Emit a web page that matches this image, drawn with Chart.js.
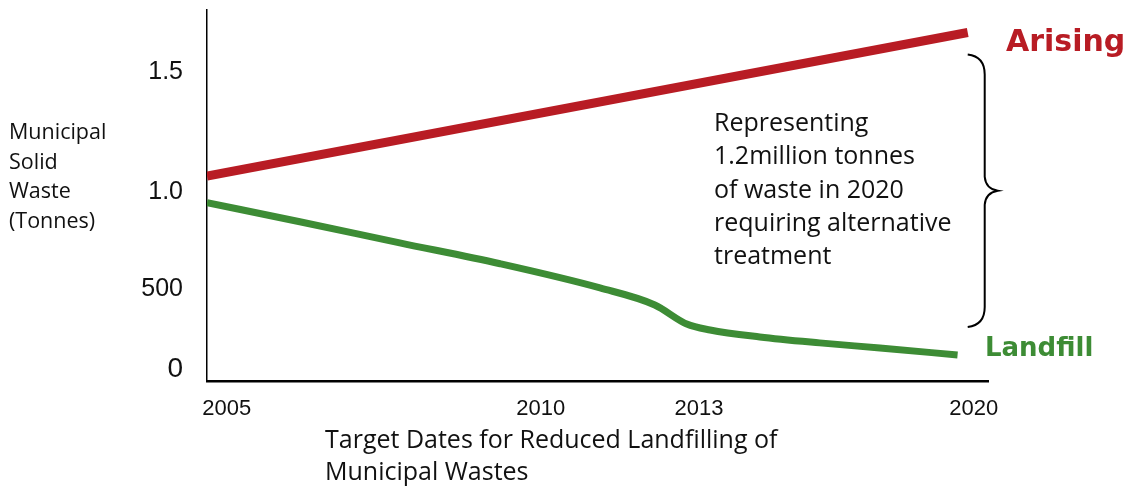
<!DOCTYPE html>
<html>
<head>
<meta charset="utf-8">
<script src="https://cdn.jsdelivr.net/npm/chart.js@4.4.1/dist/chart.umd.min.js"></script>
<style>
  body { margin: 0; background: #fff; }
  #wrap { width: 1129px; height: 490px; }
</style>
</head>
<body>
<div id="wrap"><canvas id="wasteChart" width="1129" height="490"></canvas></div>
<script>
// Data (x = position on the timeline in years, y = million tonnes)
const arisingYears = [2005, 2020];
const arisingValues = [1.0, 1.70];

const landfillYears = [2005, 2006.83, 2008.8, 2010.78, 2012.75, 2013.83, 2014.46, 2014.92, 2015.9, 2017.08, 2018.27, 2019.8];
const landfillValues = [0.87, 0.777, 0.674, 0.572, 0.454, 0.371, 0.278, 0.249, 0.215, 0.186, 0.161, 0.127];

// Tick labels as printed on the diagram (the drawn axis is not evenly spaced)
const xTickPositions = [2005.39, 2011.58, 2014.7, 2020.12];
const xTickLabels = ['2005', '2010', '2013', '2020'];
const yTickPositions = [0.059, 0.449, 0.923, 1.505];
const yTickLabels = ['0', '500', '1.0', '1.5'];

const yTitleLines = ['Municipal', 'Solid', 'Waste', '(Tonnes)'];
const xTitleLines = ['Target Dates for Reduced Landfilling of', 'Municipal Wastes'];
const noteLines = ['Representing', '1.2million tonnes', 'of waste in 2020', 'requiring alternative', 'treatment'];

const RED = '#b81c24';
const GREEN = '#3d8c35';
const bodyFont = '"Open Sans", "Noto Sans", sans-serif';

function toPoints(xs, ys) {
    return xs.map((x, i) => ({ x: x, y: ys[i] }));
}

// Draws the free text, labels and the curly brace
const annotations = {
    id: 'annotations',
    afterDraw(chart) {
        const ctx = chart.ctx;
        const x = chart.scales.x;
        const y = chart.scales.y;
        ctx.save();
        ctx.fillStyle = '#111';
        ctx.textBaseline = 'middle';
        ctx.textAlign = 'left';

        // y axis title
        ctx.font = '21.5px ' + bodyFont;
        yTitleLines.forEach((t, i) => ctx.fillText(t, 9, 133 + i * 29.5));

        // x axis title
        ctx.font = '25px ' + bodyFont;
        xTitleLines.forEach((t, i) => ctx.fillText(t, 325, 441 + i * 32));

        // note
        noteLines.forEach((t, i) => ctx.fillText(t, 714, 124 + i * 33.2));

        // series labels
        ctx.font = 'bold 30px "DejaVu Sans", sans-serif';
        ctx.fillStyle = RED;
        ctx.fillText('Arising', 1006, 43);
        ctx.font = 'bold 26px "DejaVu Sans", sans-serif';
        ctx.fillStyle = GREEN;
        ctx.fillText('Landfill', 985, 349);

        // curly brace between the two series at 2020
        const bx = x.getPixelForValue(2020);
        const top = y.getPixelForValue(arisingValues[1]) + 22;
        const bot = y.getPixelForValue(landfillValues[landfillValues.length - 1]) - 28;
        const mid = (top + bot) / 2;
        ctx.strokeStyle = '#000';
        ctx.lineWidth = 2;
        ctx.beginPath();
        ctx.moveTo(bx, top);
        ctx.quadraticCurveTo(bx + 17, top + 2, bx + 17, top + 20);
        ctx.lineTo(bx + 17, mid - 14);
        ctx.quadraticCurveTo(bx + 18, mid - 2, bx + 30, mid);
        ctx.quadraticCurveTo(bx + 18, mid + 2, bx + 17, mid + 14);
        ctx.lineTo(bx + 17, bot - 20);
        ctx.quadraticCurveTo(bx + 17, bot - 2, bx, bot);
        ctx.stroke();
        ctx.restore();
    }
};

new Chart(document.getElementById('wasteChart'), {
    type: 'line',
    data: {
        datasets: [
            {
                label: 'Arising',
                data: toPoints(arisingYears, arisingValues),
                borderColor: RED,
                borderWidth: 9,
                pointRadius: 0,
                fill: false
            },
            {
                label: 'Landfill',
                data: toPoints(landfillYears, landfillValues),
                borderColor: GREEN,
                borderWidth: 7,
                pointRadius: 0,
                cubicInterpolationMode: 'monotone',
                fill: false
            }
        ]
    },
    options: {
        responsive: false,
        animation: false,
        layout: { padding: { top: 10, right: 141, left: 0, bottom: 0 } },
        plugins: {
            legend: { display: false },
            tooltip: { enabled: false }
        },
        scales: {
            x: {
                type: 'linear',
                min: 2005,
                max: 2020.4,
                grid: { display: false, drawTicks: false },
                border: { display: true, color: '#000', width: 2.5 },
                ticks: {
                    color: '#111',
                    font: { family: '"Liberation Sans", Arial, sans-serif', size: 22 },
                    padding: 15,
                    autoSkip: false,
                    maxRotation: 0,
                    callback: (v, i) => xTickLabels[i]
                },
                afterBuildTicks: s => { s.ticks = xTickPositions.map(v => ({ value: v })); },
                afterFit: s => {
                    s.height = 109;
                    s.paddingLeft = 0;
                    s.paddingRight = 0;
                }
            },
            y: {
                type: 'linear',
                min: 0,
                max: 1.81,
                grid: { display: false, drawTicks: false },
                border: { display: true, color: '#000', width: 1.5 },
                ticks: {
                    color: '#111',
                    font: c => ({ family: '"Liberation Sans", Arial, sans-serif', size: c.index === 0 ? 28 : 25 }),
                    padding: 24,
                    autoSkip: false,
                    callback: (v, i) => yTickLabels[i]
                },
                afterBuildTicks: s => { s.ticks = yTickPositions.map(v => ({ value: v })); },
                afterFit: s => {
                    s.width = 207;
                    s.paddingTop = 0;
                    s.paddingBottom = 0;
                }
            }
        }
    },
    plugins: [annotations]
});
</script>
</body>
</html>
